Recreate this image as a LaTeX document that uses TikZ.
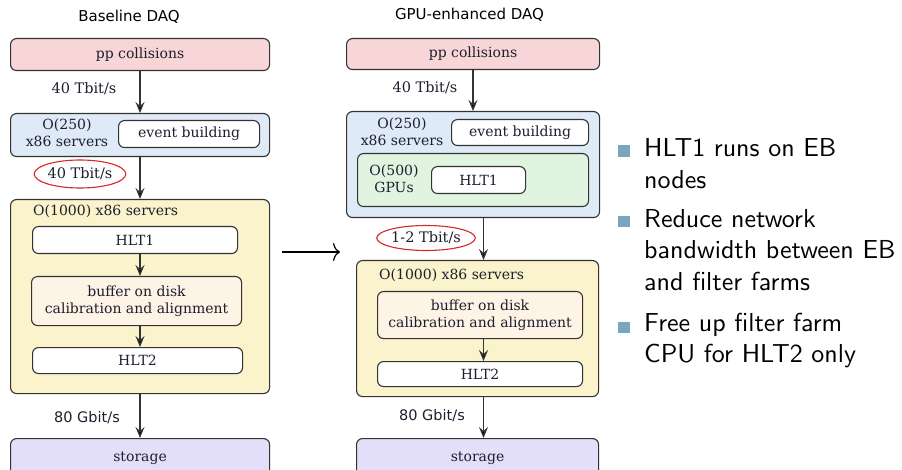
\documentclass[tikz,border=0pt]{standalone}
\usepackage{fontspec}
\setmainfont{DejaVu Serif}
\newfontfamily\dvsans{DejaVu Sans}
\newfontfamily\bulfont{lmsans10-regular.otf}
\usetikzlibrary{arrows.meta,shapes.geometric}
\definecolor{cpink}{HTML}{F8D6D7}
\definecolor{cblue}{HTML}{DEEAF5}
\definecolor{cyell}{HTML}{FAF3CB}
\definecolor{cbuf}{HTML}{FDF4E6}
\definecolor{clav}{HTML}{E4DFF9}
\definecolor{cgreen}{HTML}{E1F4DF}
\definecolor{cbul}{HTML}{78A7BD}
\definecolor{cred}{HTML}{D02A2A}
\definecolor{cline}{HTML}{333333}
\definecolor{ctext}{HTML}{1E1E2E}
\tikzset{
  box/.style={draw=cline, line width=1.1pt, rounded corners=6pt, inner sep=0pt, anchor=north west, text=ctext, font=\fontsize{14}{16.5}\selectfont},
  lbl/.style={inner sep=0pt, text=ctext, font=\fontsize{14}{17}\selectfont},
  rate/.style={inner sep=0pt, text=ctext, font=\fontsize{14.5}{17}\selectfont},
  srate/.style={inner sep=0pt, text=ctext, font=\dvsans\fontsize{14.5}{17}\selectfont},
  ttl/.style={inner sep=0pt, text=black, font=\dvsans\fontsize{15}{17}\selectfont},
  arr/.style={draw=cline, line width=1.2pt, -{Stealth[length=11pt,width=9pt,inset=4pt,fill=black]}},
  oval/.style={ellipse, draw=cred, line width=1.1pt, inner sep=0pt, text=ctext, font=\fontsize{14.5}{17}\selectfont},
  bul/.style={fill=cbul, minimum size=11.7pt, inner sep=0pt},
  btxt/.style={inner sep=0pt, anchor=base west, align=left, font=\bulfont\fontsize{26}{31.7}\selectfont}
}
\begin{document}
\begin{tikzpicture}[x=1pt,y=-1pt]
\useasboundingbox (0,0) rectangle (902,470);
% ---------- left ----------
\node[ttl] (t1) at (129,17) {Baseline DAQ};
\node[box, fill=cpink, minimum width=259pt, minimum height=32pt] (pp1) at (10,38) {pp collisions};
\node[box, fill=cblue, minimum width=259pt, minimum height=43pt] (eb1) at (10,113) {};
\node[lbl, align=center] (o250a) at (67,133) {O(250)\\x86 servers};
\node[box, fill=white, minimum width=141pt, minimum height=27pt] (evb1) at (118,120) {event building};
\node[box, fill=cyell, minimum width=259pt, minimum height=194pt] (ff1) at (10,199) {};
\node[lbl, anchor=west] (o1000a) at (33,211) {O(1000) x86 servers};
\node[box, fill=white, minimum width=205pt, minimum height=27pt] (h1a) at (32,226) {HLT1};
\node[box, fill=cbuf, minimum width=210pt, minimum height=49pt, align=center] (bufa) at (31,276) {buffer on disk\\calibration and alignment};
\node[box, fill=white, minimum width=210pt, minimum height=26pt] (h2a) at (32,347) {HLT2};
\node[box, fill=clav, minimum width=259pt, minimum height=40pt] (st1) at (10,438) {storage};
\coordinate (ca) at (140,0);
\draw[arr] (pp1.south -| ca) -- (eb1.north -| ca);
\draw[arr] (eb1.south -| ca) -- (ff1.north -| ca);
\draw[arr] (h1a.south -| ca) -- (bufa.north -| ca);
\draw[arr] (bufa.south -| ca) -- (h2a.north -| ca);
\draw[arr] (ff1.south -| ca) -- (st1.north -| ca);
\node[rate] (r1a) at (84,89) {40 Tbit/s};
\node[oval, minimum width=86pt, minimum height=28pt] (r2a) at (80,174) {40 Tbit/s};
\node[srate] (r3a) at (87,418) {80 Gbit/s};
% ---------- middle arrow ----------
\coordinate (ma) at (282,252);
\coordinate (mb) at (340,252);
\draw[line width=1.2pt, -{To[length=7pt,width=18pt,line width=1.2pt]}] (ma) -- (mb);
% ---------- right ----------
\node[ttl] (t2) at (469.5,15) {GPU-enhanced DAQ};
\node[box, fill=cpink, minimum width=253pt, minimum height=31pt] (pp2) at (346,38) {pp collisions};
\node[box, fill=cblue, minimum width=253pt, minimum height=106pt] (eb2) at (346,111) {};
\node[lbl, align=center] (o250b) at (402,132) {O(250)\\x86 servers};
\node[box, fill=white, minimum width=137pt, minimum height=26pt] (evb2) at (451,119) {event building};
\node[box, fill=cgreen, minimum width=231pt, minimum height=53pt] (gpu) at (357,153) {};
\node[lbl, align=center] (o500) at (394,179) {O(500)\\GPUs};
\node[box, fill=white, minimum width=94pt, minimum height=27pt] (h1b) at (431,166) {HLT1};
\node[box, fill=cyell, minimum width=242pt, minimum height=136pt] (ff2) at (356,260) {};
\node[lbl, anchor=west] (o1000b) at (379,275) {O(1000) x86 servers};
\node[box, fill=cbuf, minimum width=205pt, minimum height=47pt, align=center] (bufb) at (377,291) {buffer on disk\\calibration and alignment};
\node[box, fill=white, minimum width=205pt, minimum height=25pt] (h2b) at (377,361) {HLT2};
\node[box, fill=clav, minimum width=242pt, minimum height=40pt] (st2) at (356,438) {storage};
\coordinate (cb) at (483.5,0);
\coordinate (cc) at (473,0);
\draw[arr] (pp2.south -| cc) -- (eb2.north -| cc);
\draw[arr] (eb2.south -| cb) -- (ff2.north -| cb);
\draw[arr] (bufb.south -| cb) -- (h2b.north -| cb);
\draw[arr] (ff2.south -| cb) -- (st2.north -| cb);
\node[rate] (r1b) at (425,88) {40 Tbit/s};
\node[oval, minimum width=86pt, minimum height=25pt] (r2b) at (426,238) {1-2 Tbit/s};
\node[srate] (r3b) at (432,416) {80 Gbit/s};
% ---------- bullets ----------
\node[bul] (b1) at (624,151) {};
\node[bul] (b2) at (624,221.6) {};
\node[bul] (b3) at (624,327.6) {};
\node[btxt] (x1) at (644,188.3) {HLT1 runs on EB\\nodes};
\node[btxt] (x2) at (644,290.7) {Reduce network\\bandwidth between EB\\and filter farms};
\node[btxt] (x3) at (644,362.7) {Free up filter farm\\CPU for HLT2 only};
\end{tikzpicture}
\end{document}
